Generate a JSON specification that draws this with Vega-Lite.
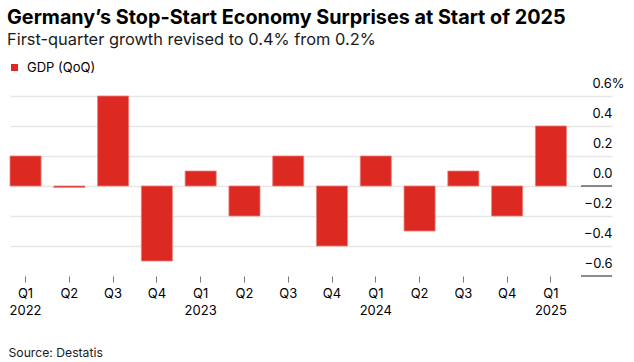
{
  "$schema": "https://vega.github.io/schema/vega-lite/v6.json",
  "width": 602,
  "height": 180,
  "autosize": {"type": "none"},
  "padding": {"left": 10, "top": 96, "right": 22, "bottom": 86},
  "background": "#ffffff",
  "config": {
    "font": "Inter",
    "view": {"stroke": null}
  },
  "title": {
    "text": "Germany’s Stop-Start Economy Surprises at Start of 2025",
    "subtitle": "First-quarter growth revised to 0.4% from 0.2%",
    "anchor": "start",
    "frame": "group",
    "dx": -3,
    "fontSize": 19.8,
    "fontWeight": "bold",
    "color": "#000000",
    "subtitleFontSize": 16.4,
    "subtitleColor": "#1a1a1a",
    "subtitlePadding": 4,
    "offset": 13
  },
  "layer": [
    {
      "data": {
        "values": [
          {"period": "Q1 2022", "gdp": 0.2},
          {"period": "Q2 2022", "gdp": -0.01},
          {"period": "Q3 2022", "gdp": 0.6},
          {"period": "Q4 2022", "gdp": -0.5},
          {"period": "Q1 2023", "gdp": 0.1},
          {"period": "Q2 2023", "gdp": -0.2},
          {"period": "Q3 2023", "gdp": 0.2},
          {"period": "Q4 2023", "gdp": -0.4},
          {"period": "Q1 2024", "gdp": 0.2},
          {"period": "Q2 2024", "gdp": -0.3},
          {"period": "Q3 2024", "gdp": 0.1},
          {"period": "Q4 2024", "gdp": -0.2},
          {"period": "Q1 2025", "gdp": 0.4}
        ]
      },
      "mark": {"type": "bar", "stroke": "#ea817c", "strokeWidth": 0.8},
      "encoding": {
        "x": {
          "field": "period",
          "type": "ordinal",
          "sort": null,
          "scale": {"paddingInner": 0.29, "paddingOuter": 0.52, "align": 0},
          "axis": {
            "title": "Source: Destatis",
            "titleAnchor": "start",
            "titleAlign": "left",
            "titleBaseline": "alphabetic",
            "titleX": -2,
            "titleY": 80,
            "titleFontSize": 12.2,
            "titleFontWeight": "normal",
            "titleColor": "#1a1a1a",
            "labelAngle": 0,
            "labelExpr": "indexof(datum.label, 'Q1') == 0 ? split(datum.label, ' ') : split(datum.label, ' ')[0]",
            "labelFontSize": 13,
            "labelColor": "#000000",
            "labelLineHeight": 17,
            "labelPadding": 5,
            "labelBaseline": "top",
            "labelOverlap": false,
            "domain": false,
            "ticks": true,
            "tickSize": 6,
            "tickColor": "#777777",
            "tickWidth": 1,
            "grid": false
          }
        },
        "y": {
          "field": "gdp",
          "type": "quantitative",
          "scale": {"domain": [-0.6, 0.6], "nice": false},
          "axis": {
            "orient": "right",
            "title": null,
            "values": [-0.6, -0.4, -0.2, 0, 0.2, 0.4, 0.6],
            "tickCount": 12,
            "labelExpr": "datum.value >= 0.59 ? '0.6%' : format(datum.value, '.1f')",
            "labelAlign": "right",
            "labelBaseline": "alphabetic",
            "labelOffset": -8.5,
            "labelOverlap": false,
            "labelPadding": {"condition": {"test": "datum.value >= 0.59", "value": 12}, "value": 0},
            "labelFontSize": 13,
            "labelColor": "#000000",
            "domain": false,
            "ticks": false,
            "grid": true,
            "gridColor": {"condition": {"test": "datum.value <= -0.59", "value": "transparent"}, "value": "#e6e6e6"},
            "gridWidth": 1.3,
            "zindex": 0
          }
        },
        "color": {
          "datum": "GDP (QoQ)",
          "type": "nominal",
          "scale": {"range": ["#dc2a22"]},
          "legend": {
            "title": null,
            "orient": "none",
            "legendX": -2,
            "legendY": -35,
            "symbolType": "square",
            "symbolSize": 49,
            "symbolStrokeWidth": 0,
            "labelFontSize": 13,
            "labelColor": "#000000",
            "labelOffset": 6
          }
        }
      }
    },
    {
      "data": {"values": [{"level": 0}, {"level": -0.6}]},
      "mark": {"type": "rule", "color": "#666666", "strokeWidth": 1.3},
      "encoding": {
        "y": {"field": "level", "type": "quantitative"},
        "x": {"datum": 0.9485, "type": "quantitative", "scale": {"domain": [0, 1]}, "axis": null},
        "x2": {"datum": 1}
      }
    }
  ],
  "resolve": {"scale": {"x": "independent"}}
}
